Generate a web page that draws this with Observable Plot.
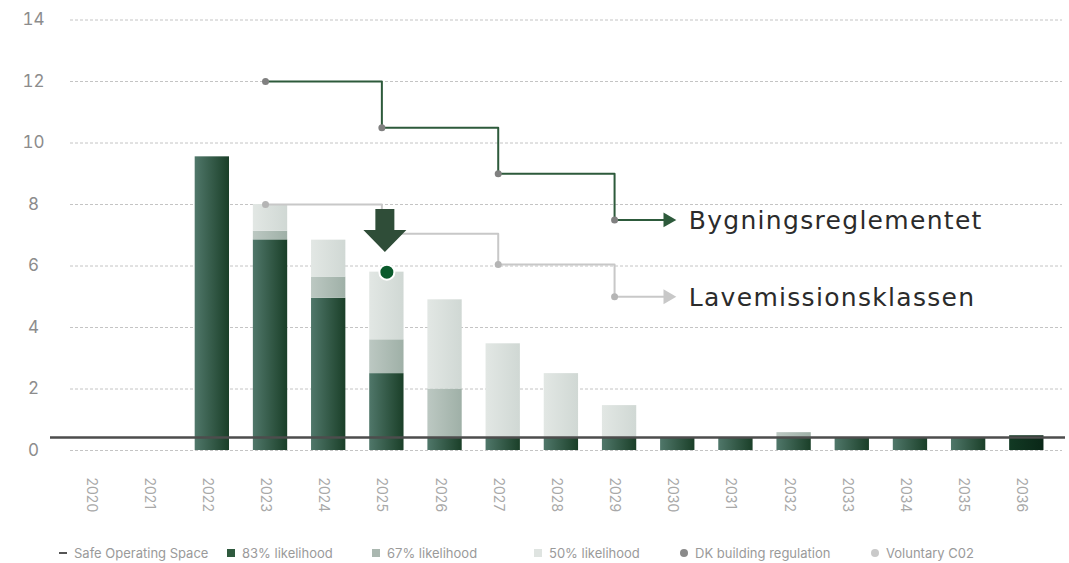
<!DOCTYPE html>
<html>
<head>
<meta charset="utf-8">
<script src="https://cdn.jsdelivr.net/npm/d3@7"></script>
<script src="https://cdn.jsdelivr.net/npm/@observablehq/plot@0.6"></script>
<style>
  html, body { margin: 0; padding: 0; background: #fff; }
  #wrap { position: relative; width: 1069px; height: 563px; font-family: Inter, "Open Sans", sans-serif; }
  #legend { position: absolute; left: 0; top: 544px; width: 1069px; height: 18px; font-size: 13px; color: #9a9a9a; }
  .item { position: absolute; top: 0; height: 18px; line-height: 18px; white-space: nowrap; }
  .sw { position: absolute; top: 5px; left: 0; }
  .lbl { position: absolute; top: 0; left: 15px; }
  svg text.big { letter-spacing: 1.3px; }
</style>
</head>
<body>
<div id="wrap">
  <div id="chart"></div>
  <div id="legend"></div>
</div>
<script>
// ---- data ----
const years = ["2020","2021","2022","2023","2024","2025","2026","2027","2028","2029","2030","2031","2032","2033","2034","2035","2036"];
const likely83 = [0, 0, 9.55, 6.85, 4.95, 2.5, 0.42, 0.42, 0.42, 0.42, 0.42, 0.42, 0.42, 0.42, 0.42, 0.42, 0.48];
const likely67 = [0, 0, 0, 0.28, 0.69, 1.1, 1.58, 0, 0, 0, 0, 0, 0.16, 0, 0, 0, 0];
const likely50 = [0, 0, 0, 0.87, 1.2, 2.2, 2.9, 3.05, 2.08, 1.04, 0, 0, 0, 0, 0, 0, 0];
const safeSpace = 0.42;
const stepYears = ["2023", "2025", "2027", "2029"];
const dkRegulation = [12, 10.5, 9, 7.5];
const voluntaryCO2 = [8, 7.05, 6.05, 5];
const labelYear = "2030";
const dkLabel = "Bygningsreglementet";
const volLabel = "Lavemissionsklassen";
const highlightYear = "2025";
const highlightValue = 5.8;
const arrowTopValue = 7.85;
const yTicks = [0, 2, 4, 6, 8, 10, 12, 14];
const legendItems = [
  {label: "Safe Operating Space", kind: "dash", color: "#555"},
  {label: "83% likelihood", kind: "square", color: "#2f5a3e"},
  {label: "67% likelihood", kind: "square", color: "#aab7b0"},
  {label: "50% likelihood", kind: "square", color: "#dfe4e1"},
  {label: "DK building regulation", kind: "circle", color: "#8a8a8a"},
  {label: "Voluntary C02", kind: "circle", color: "#c9c9c9"}
];

// ---- build table ----
const rows = years.map((year, i) => ({
  year,
  a0: 0, a1: likely83[i],
  b0: likely83[i], b1: likely83[i] + likely67[i],
  c0: likely83[i] + likely67[i], c1: likely83[i] + likely67[i] + likely50[i]
}));
const dk = stepYears.map((year, i) => ({year, value: dkRegulation[i]}));
const vol = stepYears.map((year, i) => ({year, value: voluntaryCO2[i]}));
const dkEnd = [{x1: stepYears[stepYears.length - 1], x2: labelYear, value: dkRegulation[dkRegulation.length - 1], label: dkLabel}];
const volEnd = [{x1: stepYears[stepYears.length - 1], x2: labelYear, value: voluntaryCO2[voluntaryCO2.length - 1], label: volLabel}];

const ns = "http://www.w3.org/2000/svg";
function gradientDefs() {
  const defs = document.createElementNS(ns, "defs");
  const grads = [
    ["g83", "#50776a", "#1a3f28"],
    ["g83b", "#123a24", "#0a2717"],
    ["g67", "#bcc8c2", "#9fb0a7"],
    ["g50", "#e2e7e4", "#d0d8d4"]
  ];
  for (const [id, c0, c1] of grads) {
    const g = document.createElementNS(ns, "linearGradient");
    g.setAttribute("id", id);
    g.setAttribute("x1", "0"); g.setAttribute("x2", "1");
    g.setAttribute("y1", "0"); g.setAttribute("y2", "0");
    const s0 = document.createElementNS(ns, "stop");
    s0.setAttribute("offset", "0"); s0.setAttribute("stop-color", c0);
    const s1 = document.createElementNS(ns, "stop");
    s1.setAttribute("offset", "1"); s1.setAttribute("stop-color", c1);
    g.append(s0, s1);
    defs.append(g);
  }
  return defs;
}

const arrowShape = {
  draw(context, l) {
    context.moveTo(-9.5, 0);
    context.lineTo(9.5, 0);
    context.lineTo(9.5, -21);
    context.lineTo(21.5, -21);
    context.lineTo(0, -l);
    context.lineTo(-21.5, -21);
    context.lineTo(-9.5, -21);
    context.closePath();
  }
};

const lineDx = -5;
const chart = Plot.plot({
  width: 1069,
  height: 530,
  marginLeft: 50,
  marginRight: 4,
  marginTop: 18,
  marginBottom: 80,
  style: {fontFamily: "Inter, 'Open Sans', sans-serif", background: "#fff"},
  x: {domain: years, range: [66.4, 1055.4], paddingInner: 0.41, paddingOuter: 0.205, round: false, label: null},
  y: {domain: [0, 14], range: [450, 19.5], label: null},
  marks: [
    gradientDefs,
    Plot.ruleY(yTicks, {stroke: "#c4c4c4", strokeDasharray: "3,2", strokeWidth: 1, insetLeft: 20, insetRight: 3}),
    Plot.barY(rows, {x: "year", y1: "a0", y2: "a1", fill: d => d.year === "2036" ? "url(#g83b)" : "url(#g83)"}),
    Plot.barY(rows, {x: "year", y1: "b0", y2: "b1", fill: "url(#g67)"}),
    Plot.barY(rows, {x: "year", y1: "c0", y2: "c1", fill: "url(#g50)"}),
    Plot.ruleY([safeSpace], {stroke: "#4d4d4d", strokeWidth: 2.5}),
    // voluntary CO2 steps
    Plot.line(vol, {x: "year", y: "value", curve: "step-after", stroke: "#c8c8c8", strokeWidth: 2, dx: lineDx}),
    Plot.link(volEnd, {x1: "x1", x2: "x2", y1: "value", y2: "value", stroke: "#c8c8c8", strokeWidth: 2, insetRight: 8, dx: lineDx}),
    Plot.dot(volEnd, {x: "x2", y: "value", symbol: "triangle", rotate: 90, r: 5.5, dx: lineDx - 5, fill: "#c8c8c8", stroke: "none"}),
    Plot.dot(vol, {x: "year", y: "value", r: 3.5, fill: "#b5b5b5", stroke: "none", dx: lineDx}),
    Plot.text(volEnd, {x: "x2", y: "value", text: "label", textAnchor: "start", dx: 11, dy: 1, fontSize: 25, fontFamily: "DejaVu Sans", fill: "#2b2b2b", className: "big"}),
    // DK regulation steps
    Plot.line(dk, {x: "year", y: "value", curve: "step-after", stroke: "#2d5a3b", strokeWidth: 2, dx: lineDx}),
    Plot.link(dkEnd, {x1: "x1", x2: "x2", y1: "value", y2: "value", stroke: "#2d5a3b", strokeWidth: 2, insetRight: 8, dx: lineDx}),
    Plot.dot(dkEnd, {x: "x2", y: "value", symbol: "triangle", rotate: 90, r: 5.5, dx: lineDx - 5, fill: "#2d5a3b", stroke: "none"}),
    Plot.dot(dk, {x: "year", y: "value", r: 3.5, fill: "#808080", stroke: "none", dx: lineDx}),
    Plot.text(dkEnd, {x: "x2", y: "value", text: "label", textAnchor: "start", dx: 11, dy: 1, fontSize: 25, fontFamily: "DejaVu Sans", fill: "#2b2b2b", className: "big"}),
    // highlight arrow and dot
    Plot.vector([{year: highlightYear, value: arrowTopValue}], {x: "year", y: "value", length: 43, rotate: 180, anchor: "start", shape: arrowShape, fill: "#2f4d38", stroke: "none", dx: -2}),
    Plot.dot([{year: highlightYear, value: highlightValue}], {x: "year", y: "value", r: 7.5, fill: "#0b5a2c", stroke: "#fff", strokeWidth: 2}),
    Plot.axisY(yTicks, {tickSize: 0, tickPadding: 17, textAnchor: "middle", fontSize: 17, color: "#8c8c8c"}),
    Plot.axisX({tickSize: 0, tickRotate: 90, tickPadding: 27, fontSize: 14, color: "#a8a8a8", dx: -5})
  ]
});
document.getElementById("chart").append(chart);
chart.querySelectorAll("g.big text, text.big").forEach(t => t.setAttribute("letter-spacing", "1.3"));

// ---- legend ----
const legendX = [59, 227, 372, 534, 680, 871];
const legend = document.getElementById("legend");
legendItems.forEach((it, i) => {
  const d = document.createElement("div");
  d.className = "item";
  d.style.left = legendX[i] + "px";
  const sw = document.createElement("span");
  sw.className = "sw";
  if (it.kind === "dash") { sw.style.width = "8px"; sw.style.height = "2px"; sw.style.top = "8px"; }
  else if (it.kind === "square") { sw.style.width = "8px"; sw.style.height = "8px"; }
  else { sw.style.width = "8px"; sw.style.height = "8px"; sw.style.borderRadius = "50%"; }
  sw.style.background = it.color;
  const t = document.createElement("span");
  t.className = "lbl";
  t.textContent = it.label;
  d.append(sw, t);
  legend.append(d);
});
</script>
</body>
</html>
